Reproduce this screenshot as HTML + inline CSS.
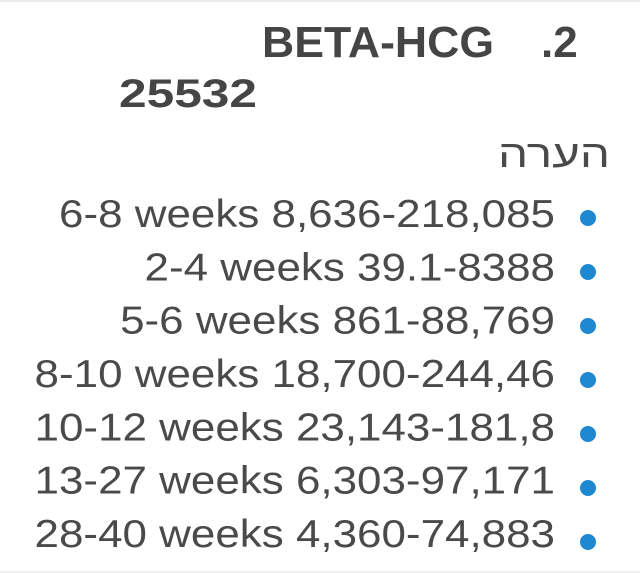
<!DOCTYPE html>
<html>
<head>
<meta charset="utf-8">
<style>
  html,body{margin:0;padding:0;background:#fff;}
  body{width:640px;height:573px;overflow:hidden;position:relative;}
  svg{position:absolute;left:0;top:0;}
</style>
</head>
<body>
<svg width="640" height="573" viewBox="0 0 640 573" xmlns="http://www.w3.org/2000/svg">
  <rect x="0" y="0" width="640" height="573" fill="#ffffff"/>
  <rect x="0" y="0" width="640" height="2" fill="#ececec"/>
  <rect x="0" y="571" width="640" height="2" fill="#f0f0f0"/>

  <!-- Title -->
  <g font-family="'Liberation Sans', 'DejaVu Sans', sans-serif" font-weight="bold" fill="#454545">
    <text x="262" y="57" font-size="44" textLength="232" lengthAdjust="spacingAndGlyphs">BETA-HCG</text>
    <text x="541" y="57" font-size="44">.2</text>
    <text x="119" y="107" font-size="40" textLength="138" lengthAdjust="spacingAndGlyphs">25532</text>
  </g>

  <!-- Hebrew note -->
  <text x="610" y="167" font-size="38" fill="#4a4a4a" font-family="'Liberation Sans', 'DejaVu Sans', sans-serif" text-anchor="end" textLength="112" lengthAdjust="spacingAndGlyphs">הערה</text>

  <!-- Lines -->
  <g font-family="'Liberation Sans', Arial, sans-serif" font-size="39" fill="#4a4a4a">
    <g transform="translate(555,227) scale(1.127,1)"><text x="0" y="0" text-anchor="end">6-8 weeks 8,636-218,085</text></g>
    <g transform="translate(555,280.3) scale(1.127,1)"><text x="0" y="0" text-anchor="end">2-4 weeks 39.1-8388</text></g>
    <g transform="translate(555,333.7) scale(1.127,1)"><text x="0" y="0" text-anchor="end">5-6 weeks 861-88,769</text></g>
    <g transform="translate(555,387) scale(1.127,1)"><text x="0" y="0" text-anchor="end">8-10 weeks 18,700-244,46</text></g>
    <g transform="translate(555,440.3) scale(1.127,1)"><text x="0" y="0" text-anchor="end">10-12 weeks 23,143-181,8</text></g>
    <g transform="translate(555,493.7) scale(1.127,1)"><text x="0" y="0" text-anchor="end">13-27 weeks 6,303-97,171</text></g>
    <g transform="translate(555,547) scale(1.127,1)"><text x="0" y="0" text-anchor="end">28-40 weeks 4,360-74,883</text></g>
  </g>

  <!-- Bullets -->
  <g fill="#1e88d0">
    <circle cx="588" cy="218" r="8"/>
    <circle cx="588" cy="272" r="8"/>
    <circle cx="588" cy="326" r="8"/>
    <circle cx="588" cy="380" r="8"/>
    <circle cx="588" cy="434" r="8"/>
    <circle cx="588" cy="488" r="8"/>
    <circle cx="588" cy="542" r="8"/>
  </g>
</svg>
</body>
</html>
